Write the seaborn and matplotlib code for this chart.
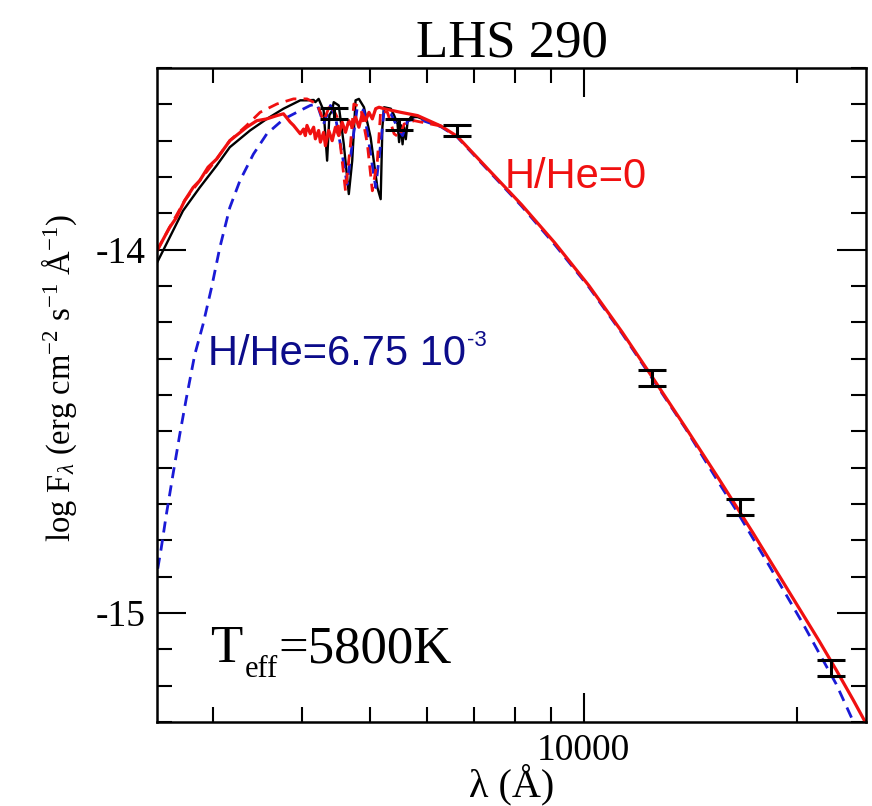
import numpy as np
import pandas as pd
import matplotlib
matplotlib.use("Agg")
import matplotlib.pyplot as plt
import seaborn as sns
from matplotlib.ticker import FixedLocator, NullFormatter, FixedFormatter, MultipleLocator, FuncFormatter

# ---------------- data (wavelength in Angstrom, log F_lambda) ----------------
black_wl = [2500, 2604, 2720, 2872, 3033, 3167, 3382, 3572, 3770, 3981,
            4069, 4158, 4181, 4226, 4295, 4344, 4376, 4416, 4438, 4511,
            4585, 4661, 4713, 4764, 4816, 4896, 5003, 5114, 5169, 5198,
            5226, 5342, 5399, 5460, 5488, 5518, 5550, 5578, 5609, 5640,
            5702, 5828, 6290]
black_f = [-14.036, -13.967, -13.893, -13.829, -13.769, -13.718, -13.672, -13.640, -13.612, -13.589,
           -13.589, -13.588, -13.594, -13.585, -13.617, -13.755, -13.630, -13.617, -13.594, -13.603,
           -13.709, -13.847, -13.755, -13.589, -13.585, -13.608, -13.691, -13.829, -13.861, -13.663,
           -13.608, -13.612, -13.630, -13.654, -13.704, -13.657, -13.710, -13.663, -13.696, -13.649,
           -13.635, -13.635, -13.660]

red_wl = [2500, 2604, 2662, 2735, 2811, 2872, 2951, 3033, 3167, 3345,
          3457, 3572, 3690, 3770, 3853, 3895, 3981, 4024, 4047, 4069,
          4113, 4158, 4181, 4226, 4250, 4295, 4320, 4366, 4416, 4463,
          4511, 4561, 4611, 4661, 4713, 4764, 4816, 4870, 4923, 4976,
          5031, 5086, 5141, 5226, 5518, 5828, 6290, 6627, 6936, 7332,
          8167, 9097, 10165, 11324, 12491, 13910, 15493, 17313, 19280, 21472,
          22699, 23993, 24955]
red_f = [-14.003, -13.939, -13.912, -13.865, -13.829, -13.810, -13.773, -13.751, -13.700, -13.663,
         -13.645, -13.640, -13.631, -13.626, -13.649, -13.658, -13.681, -13.668, -13.686, -13.658,
         -13.681, -13.663, -13.695, -13.672, -13.704, -13.677, -13.714, -13.672, -13.700, -13.663,
         -13.686, -13.649, -13.677, -13.645, -13.663, -13.635, -13.663, -13.626, -13.645, -13.622,
         -13.640, -13.612, -13.608, -13.612, -13.622, -13.631, -13.660, -13.688, -13.729, -13.779,
         -13.876, -13.981, -14.099, -14.227, -14.351, -14.489, -14.630, -14.779, -14.928, -15.077,
         -15.157, -15.240, -15.301]

rdash_wl = [2500, 2604, 2735, 2872, 3033, 3167, 3345, 3494, 3690, 3895,
            4069, 4204, 4295, 4391, 4488, 4561, 4611, 4687, 4738, 4843,
            4950, 5031, 5114, 5169, 5284, 5399, 5488, 5578, 5764, 6290]
rdash_f = [-14.003, -13.939, -13.865, -13.810, -13.751, -13.700, -13.658, -13.622, -13.599, -13.585,
           -13.585, -13.599, -13.645, -13.599, -13.635, -13.755, -13.838, -13.709, -13.599, -13.608,
           -13.709, -13.838, -13.755, -13.617, -13.622, -13.681, -13.691, -13.654, -13.645, -13.660]

blue_wl = [2506, 2534, 2576, 2632, 2691, 2750, 2826, 2903, 2984, 3066,
           3167, 3273, 3419, 3572, 3770, 3981, 4113, 4204, 4295, 4391,
           4463, 4561, 4636, 4713, 4791, 4896, 5003, 5086, 5169, 5226,
           5342, 5460, 5550, 5640, 5828, 6290, 6627, 7332, 8167, 9097,
           10165, 11324, 12491, 13910, 15493, 16378, 18297, 20379, 22699, 23917]
blue_f = [-14.878, -14.823, -14.731, -14.621, -14.510, -14.409, -14.289, -14.206, -14.105, -13.994,
          -13.884, -13.810, -13.737, -13.681, -13.641, -13.617, -13.603, -13.599, -13.654, -13.603,
          -13.635, -13.737, -13.820, -13.709, -13.608, -13.617, -13.737, -13.829, -13.709, -13.617,
          -13.626, -13.663, -13.686, -13.645, -13.640, -13.662, -13.690, -13.782, -13.880, -13.986,
          -14.103, -14.231, -14.355, -14.492, -14.641, -14.715, -14.873, -15.030, -15.196, -15.293]

phot_wl = [4440, 5494, 6627, 12491, 16600, 22320]
phot_f = [-13.624, -13.655, -13.673, -14.352, -14.709, -15.151]
phot_err = [0.015, 0.015, 0.015, 0.022, 0.022, 0.022]

x_major = [10000]
x_major_labels = ["10000"]
x_minor = [3000, 4000, 5000, 6000, 7000, 8000, 9000, 20000]

# ---------------- style ----------------
sns.set_style("ticks")
plt.rcParams['font.family'] = ['Liberation Serif', 'DejaVu Serif']
plt.rcParams['mathtext.fontset'] = 'custom'
plt.rcParams['mathtext.rm'] = 'Liberation Serif'
plt.rcParams['mathtext.it'] = 'Liberation Serif:italic'
plt.rcParams['mathtext.sf'] = 'Liberation Sans'
for k in ['text.color', 'axes.labelcolor', 'xtick.color', 'ytick.color', 'axes.edgecolor']:
    plt.rcParams[k] = 'black'

fig = plt.figure(figsize=(8.72, 8.06), dpi=100)
ax = fig.add_axes([157 / 872, 84 / 806, 709 / 872, 654 / 806])

black_df = pd.DataFrame({"wl": black_wl, "f": black_f})
red_df = pd.DataFrame({"wl": red_wl, "f": red_f})
rdash_df = pd.DataFrame({"wl": rdash_wl, "f": rdash_f})
blue_df = pd.DataFrame({"wl": blue_wl, "f": blue_f})

sns.lineplot(data=black_df, x="wl", y="f", ax=ax, color="black", linewidth=1.7,
             sort=False, estimator=None)
sns.lineplot(data=blue_df, x="wl", y="f", ax=ax, color="#1a1ad6", linewidth=2.0,
             sort=False, estimator=None, linestyle=(0, (4.0, 2.6)))
sns.lineplot(data=rdash_df, x="wl", y="f", ax=ax, color="#f01010", linewidth=2.0,
             sort=False, estimator=None, linestyle=(0, (4.0, 2.6)))
sns.lineplot(data=red_df, x="wl", y="f", ax=ax, color="#f01010", linewidth=2.3,
             sort=False, estimator=None)

ax.errorbar(phot_wl, phot_f, yerr=phot_err, fmt='none', ecolor='black',
            elinewidth=2.2, capsize=10, capthick=2.2, zorder=5)

ax.set_xscale('log')
ax.set_xlim(2500, 25000)
ax.set_ylim(-15.3, -13.5)

ax.xaxis.set_major_locator(FixedLocator(x_major))
ax.xaxis.set_major_formatter(FixedFormatter(x_major_labels))
ax.xaxis.set_minor_locator(FixedLocator(x_minor))
ax.xaxis.set_minor_formatter(NullFormatter())
ax.yaxis.set_major_locator(MultipleLocator(1.0))
ax.yaxis.set_minor_locator(MultipleLocator(0.1))
ax.yaxis.set_major_formatter(FuncFormatter(lambda v, p: "%d" % round(v)))

ax.tick_params(which='major', direction='in', length=21, width=1.5,
               top=True, right=True, labelsize=27, pad=8, colors='black')
ax.tick_params(which='minor', direction='in', length=11, width=1.5,
               top=True, right=True, colors='black')
for s in ax.spines.values():
    s.set_linewidth(1.8)
    s.set_color('black')

ax.set_title("LHS 290", fontsize=38, pad=8, color='black')
ax.set_xlabel("λ (Å)", fontsize=29, labelpad=-3, color='black')
ax.set_ylabel(r"log F$_\lambda$ (erg cm$^{-2}$ s$^{-1}$ Å$^{-1}$)", fontsize=23.5, color='black')
ax.yaxis.set_label_coords(-0.11, 0.526)

ax.text(0.491, 0.8165, "H/He=0", transform=ax.transAxes, color="#f01010",
        fontsize=30, family=['Liberation Sans'], va='baseline')
h1 = ax.text(0.072, 0.546, "H/He=6.75 10", transform=ax.transAxes,
             color="#0c0c8a", fontsize=30, family=['Liberation Sans'], va='baseline')
ax.annotate("-3", xy=(1, 1), xycoords=h1, xytext=(1, 3), textcoords='offset points',
            color="#0c0c8a", fontsize=16, family=['Liberation Sans'], va='top', ha='left')

t1 = ax.text(0.0748, 0.0917, "T", transform=ax.transAxes, fontsize=38, va='baseline',
             color='black')
t2 = ax.annotate("eff", xy=(1, 0), xycoords=t1, xytext=(2, -8), textcoords='offset points',
                 fontsize=22, va='bottom', ha='left', color='black')
t3 = ax.annotate("=5800K", xy=(1, 0), xycoords=(t2, t1), fontsize=38, va='bottom',
                 ha='left', color='black')

fig.savefig("out.png", dpi=100)
